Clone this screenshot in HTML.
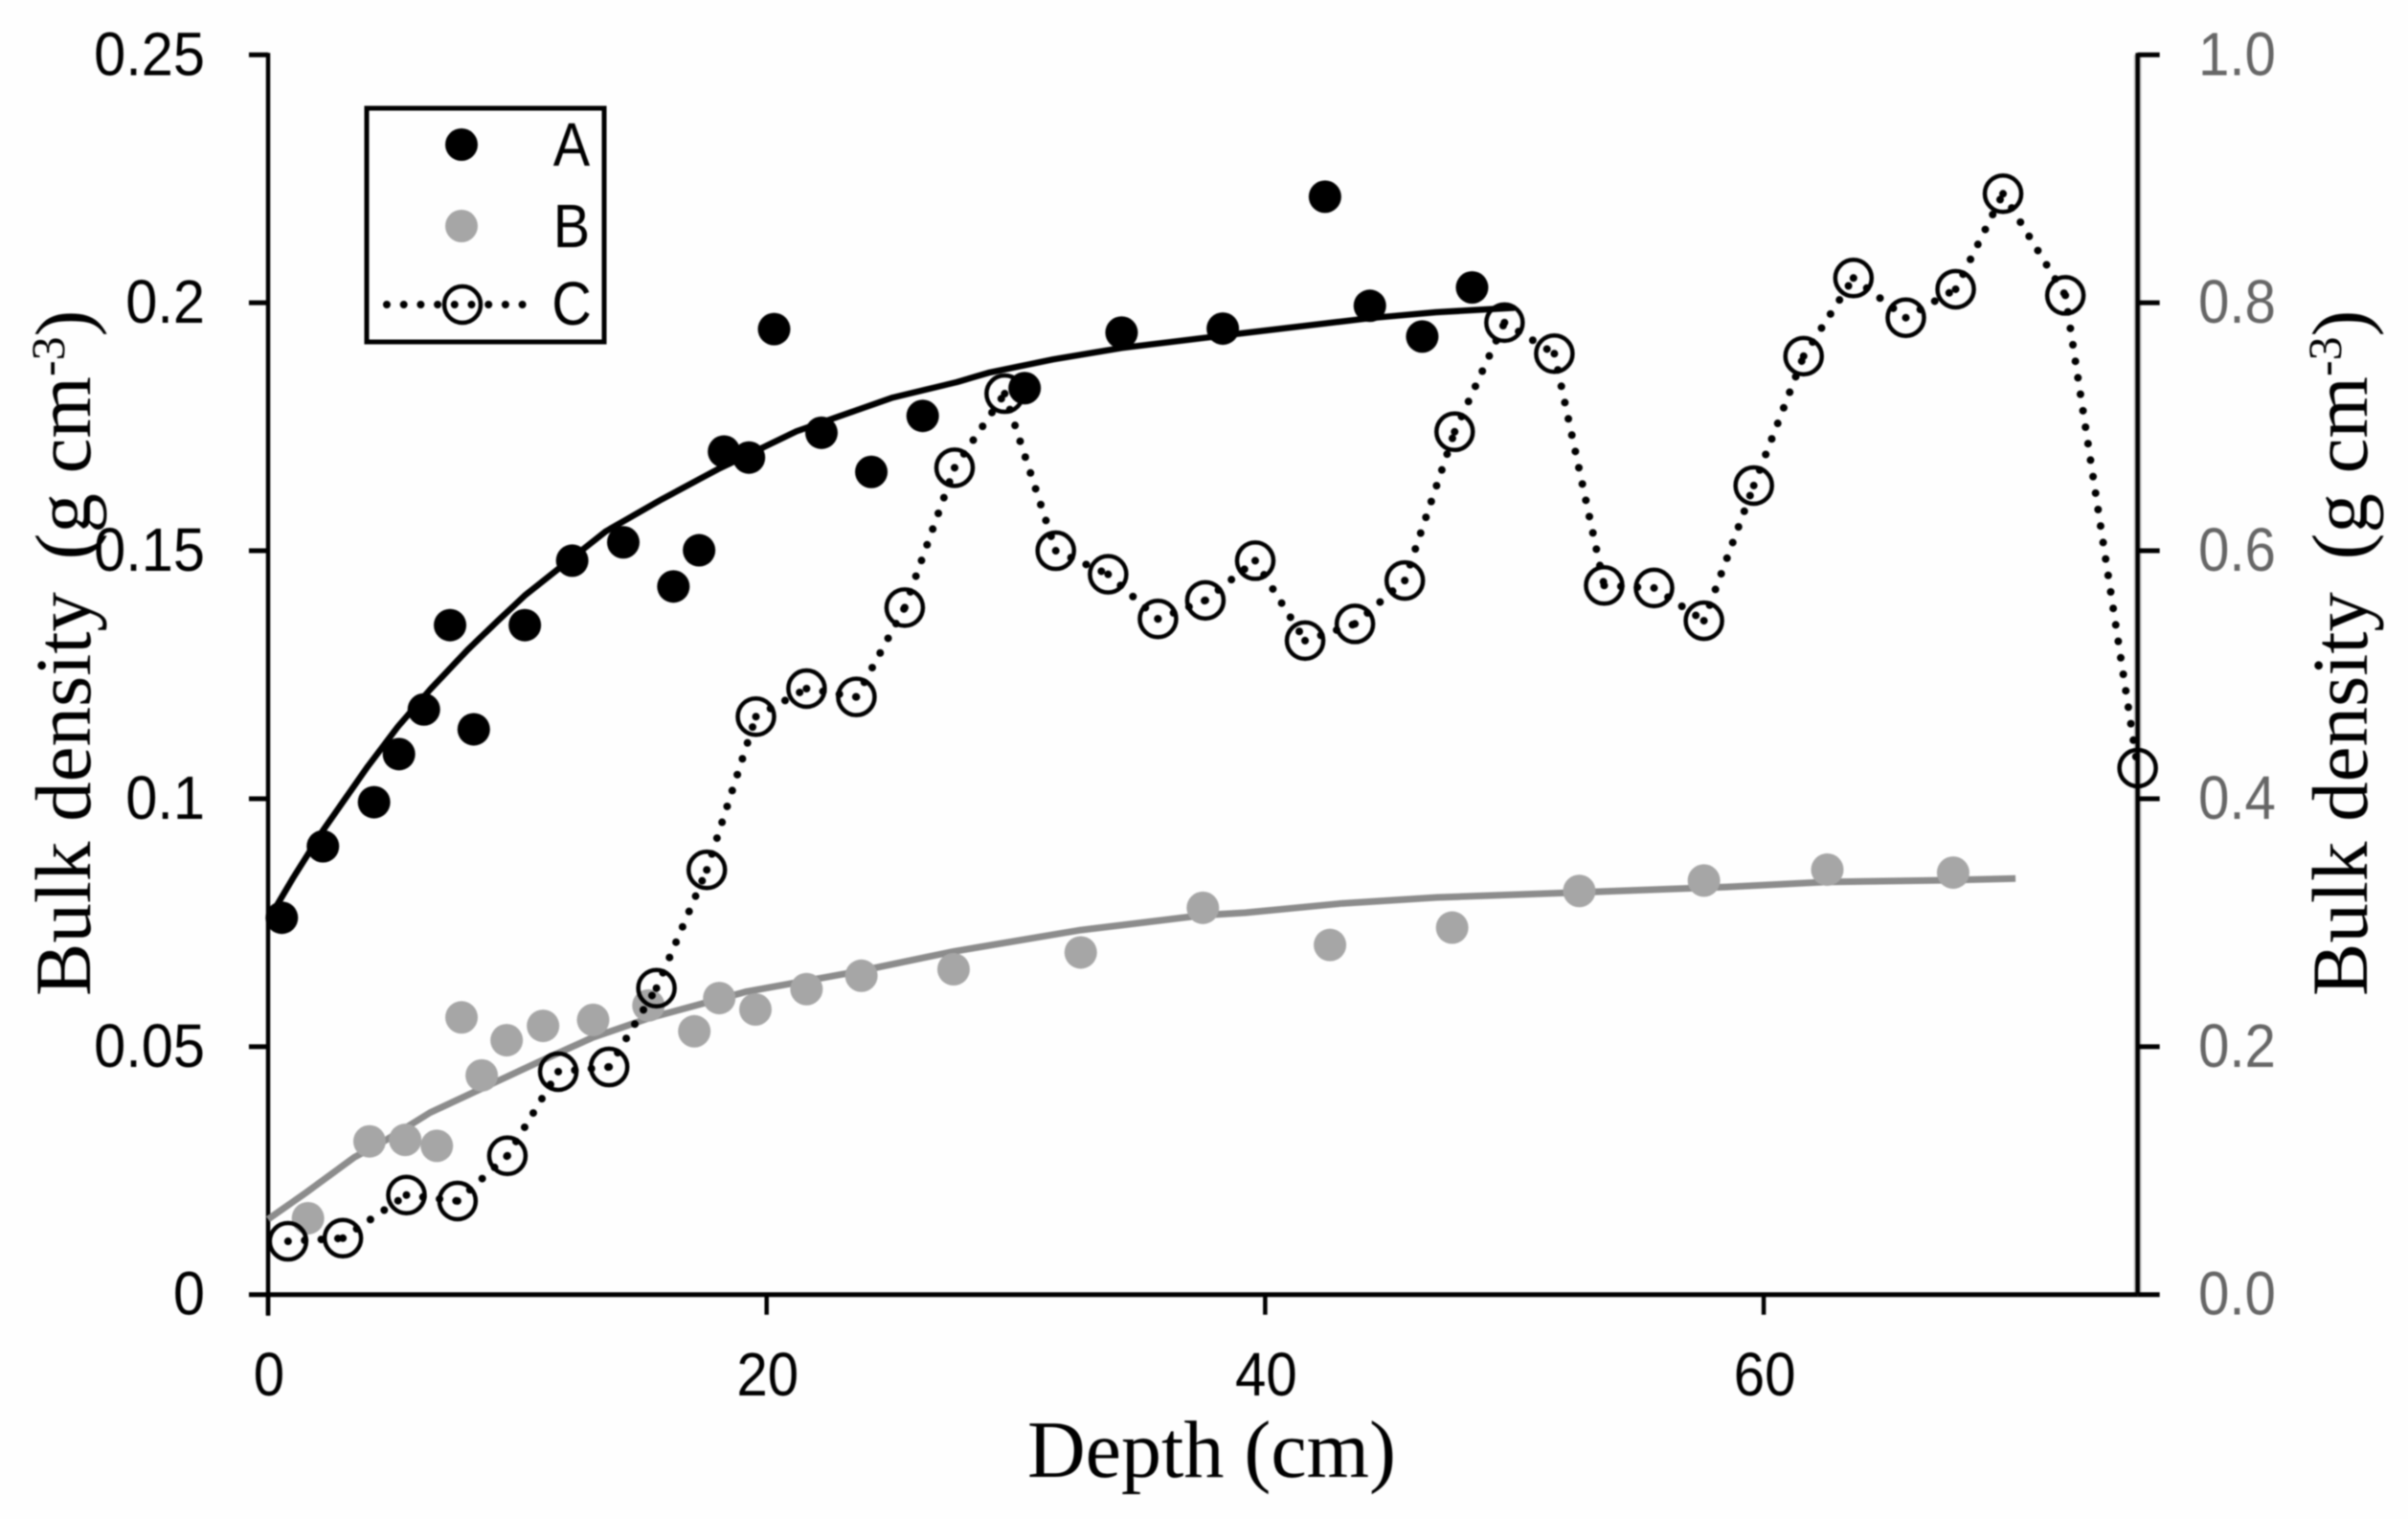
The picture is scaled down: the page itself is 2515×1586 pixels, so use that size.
<!DOCTYPE html>
<html lang="en">
<head>
<meta charset="utf-8">
<title>Bulk density vs depth</title>
<style>
html,body{margin:0;padding:0;background:#fefefe;}
body{width:2515px;height:1586px;overflow:hidden;}
svg{display:block;filter:blur(0.7px);}
.tick-left,.tick-bottom,.legend-label{font-family:"Liberation Sans",sans-serif;font-size:64px;fill:#000;}
.tick-right{font-family:"Liberation Sans",sans-serif;font-size:64px;fill:#666;}
.axis-title{font-family:"Liberation Serif",serif;font-size:83px;fill:#000;}
</style>
</head>
<body>
<svg id="chart" xmlns="http://www.w3.org/2000/svg" width="2515" height="1586" viewBox="0 0 2515 1586">
  <rect x="0" y="0" width="2515" height="1586" fill="#fefefe"/>
  <g id="axes"></g>
  <g id="marks"></g>
  <text class="axis-title" style="font-size:85px" x="1073" y="1542" textLength="385" lengthAdjust="spacingAndGlyphs">Depth (cm)</text>
  <text class="axis-title" transform="translate(94,1040) rotate(-90)">Bulk density <tspan dx="13">(g </tspan>cm<tspan dy="-27" font-size="50">-3</tspan><tspan dy="27">)</tspan></text>
  <text class="axis-title" transform="translate(2472,1040) rotate(-90)">Bulk density <tspan dx="13">(g </tspan>cm<tspan dy="-27" font-size="50">-3</tspan><tspan dy="27">)</tspan></text>
  <g>
    <rect x="383" y="113" width="248" height="244" fill="none" stroke="#000" stroke-width="5"/>
    <circle cx="482" cy="151" r="17" fill="#000"/>
    <circle cx="482" cy="236" r="17" fill="#a6a6a6"/>
    <line x1="404" y1="318" x2="548" y2="318" stroke="#000" stroke-width="8" stroke-linecap="round" stroke-dasharray="0 17.7"/>
    <circle cx="483" cy="318" r="19" fill="none" stroke="#000" stroke-width="4.5"/>
    <text class="legend-label" text-anchor="middle" transform="translate(597,173) scale(0.9,1)">A</text>
    <text class="legend-label" text-anchor="middle" transform="translate(597,258) scale(0.9,1)">B</text>
    <text class="legend-label" text-anchor="middle" transform="translate(597,339) scale(0.9,1)">C</text>
  </g>
</svg>
<script>
// Tick labels
const xTicks = [0, 20, 40, 60];
const leftTicks = [0, 0.05, 0.1, 0.15, 0.2, 0.25];
const leftTickLabels = ["0", "0.05", "0.1", "0.15", "0.2", "0.25"];
const rightTicks = [0, 0.2, 0.4, 0.6, 0.8, 1.0];
const rightTickLabels = ["0.0", "0.2", "0.4", "0.6", "0.8", "1.0"];

// Series A (left axis)
const depthA = [0.55, 2.2, 4.25, 5.25, 6.25, 7.3, 8.25, 10.3, 12.2, 14.25, 16.26, 17.29, 18.29, 19.29, 20.3, 22.2, 24.2, 26.26, 30.35, 34.24, 38.3, 42.4, 44.2, 46.3, 48.3];
const valuesA = [0.076, 0.0904, 0.0993, 0.109, 0.118, 0.135, 0.114, 0.135, 0.148, 0.1517, 0.1428, 0.1501, 0.170, 0.1688, 0.1947, 0.1738, 0.1659, 0.1772, 0.1828, 0.194, 0.1948, 0.2214, 0.1994, 0.1932, 0.2031];
// Trend line through A
const trendDepthA = [0, 1, 2.2, 4, 5.2, 6.5, 8, 9.2, 10.3, 13.54, 15.8, 18.03, 21.2, 25.06, 27.63, 28.9, 31.5, 34.24, 38.3, 44.2, 46.85, 50];
const trendValuesA = [0.0755, 0.084, 0.0936, 0.1065, 0.1145, 0.122, 0.130, 0.1358, 0.141, 0.1539, 0.1604, 0.1664, 0.1741, 0.1809, 0.1840, 0.1859, 0.1886, 0.1909, 0.1934, 0.1969, 0.1981, 0.199];

// Series B (left axis)
const depthB = [1.6, 4.07, 5.5, 6.77, 7.76, 8.57, 9.57, 11.03, 13.04, 15.26, 17.1, 18.1, 19.55, 21.6, 23.8, 27.5, 32.6, 37.5, 42.6, 47.5, 52.6, 57.6, 62.55, 67.6];
const valuesB = [0.0154, 0.0309, 0.0312, 0.03, 0.0559, 0.0442, 0.0513, 0.0542, 0.0554, 0.0583, 0.0531, 0.0598, 0.0575, 0.0616, 0.0643, 0.0656, 0.069, 0.078, 0.0705, 0.074, 0.0814, 0.0835, 0.0857, 0.0851];
// Trend line through B
const trendDepthB = [0, 1.5, 3.46, 4.74, 6.5, 8.55, 10.8, 13, 15.25, 19.2, 23.7, 27.5, 32.6, 37.5, 39.2, 43.1, 46.9, 52.6, 58.5, 62.5, 67.6, 70.1];
const trendValuesB = [0.0152, 0.0205, 0.0277, 0.0312, 0.0367, 0.0415, 0.0468, 0.0518, 0.0557, 0.0611, 0.0652, 0.0692, 0.0735, 0.0765, 0.077, 0.0789, 0.0801, 0.0811, 0.0822, 0.0832, 0.0836, 0.0839];

// Series C (right axis)
const depthC = [0.8, 3.0, 5.55, 7.6, 9.6, 11.64, 13.68, 15.58, 17.6, 19.57, 21.6, 23.6, 25.54, 27.54, 29.55, 31.6, 33.7, 35.7, 37.6, 39.6, 41.6, 43.6, 45.6, 47.6, 49.6, 51.6, 53.6, 55.6, 57.6, 59.6, 61.6, 63.6, 65.7, 67.7, 69.6, 72.1, 75];
const valuesC = [0.043, 0.0455, 0.0803, 0.0755, 0.112, 0.1798, 0.1836, 0.2472, 0.3426, 0.4662, 0.4888, 0.4821, 0.5542, 0.667, 0.7267, 0.6, 0.581, 0.545, 0.56, 0.592, 0.5275, 0.541, 0.576, 0.696, 0.784, 0.759, 0.572, 0.57, 0.5436, 0.6526, 0.757, 0.82, 0.788, 0.811, 0.888, 0.806, 0.4247];

// Axis functions
function xScale(depth) { return 280 + depth * 26.035; }
function yLeft(v) { return 1351.7 - v / 0.25 * 1294.4; }
function yRight(v) { return 1351.7 - v * 1294.4; }

const NS = "http://www.w3.org/2000/svg";
const axesGroup = document.getElementById("axes");
const marksGroup = document.getElementById("marks");

function drawLine(parent, x1, y1, x2, y2, stroke, width) {
  const el = document.createElementNS(NS, "line");
  el.setAttribute("x1", x1);
  el.setAttribute("y1", y1);
  el.setAttribute("x2", x2);
  el.setAttribute("y2", y2);
  el.setAttribute("stroke", stroke);
  el.setAttribute("stroke-width", width);
  parent.appendChild(el);
  return el;
}
function drawLabel(parent, cls, x, y, sx, anchor, str) {
  const el = document.createElementNS(NS, "text");
  el.setAttribute("class", cls);
  el.setAttribute("text-anchor", anchor);
  el.setAttribute("transform", "translate(" + x + "," + y + ") scale(" + sx + ",1)");
  el.textContent = str;
  parent.appendChild(el);
  return el;
}
function pathFrom(xs, ys, xf, yf) {
  return xs.map(function (d, i) { return (i ? "L" : "M") + xf(d).toFixed(1) + " " + yf(ys[i]).toFixed(1); }).join(" ");
}

// Axis lines
let axisEl;
axisEl = drawLine(axesGroup, xScale(75), yRight(1), xScale(75), yRight(0), "#c4c4c4", 8);


axisEl = drawLine(axesGroup, xScale(0), yLeft(0.25) - 2, xScale(0), yLeft(0) + 22, "#000", 4.5);


axisEl = drawLine(axesGroup, xScale(75), yRight(1) - 2, xScale(75), yRight(0), "#000", 4.5);


axisEl = drawLine(axesGroup, xScale(0), yLeft(0), xScale(75), yLeft(0), "#000", 5);



// Left ticks + labels
leftTicks.forEach(function (v, i) {
  const t = drawLine(axesGroup, xScale(0) - 20, yLeft(v), xScale(0), yLeft(v), "#000", 5);
  
  
  const l = drawLabel(axesGroup, "tick-left", 214, yLeft(v) + 21, 0.93, "end", leftTickLabels[i]);
  
  
});
// Right ticks + labels
rightTicks.forEach(function (v, i) {
  const t = drawLine(axesGroup, xScale(75), yRight(v), xScale(75) + 23, yRight(v), "#000", 5);
  
  
  const l = drawLabel(axesGroup, "tick-right", 2296, yRight(v) + 21, 0.91, "start", rightTickLabels[i]);
  
  
});
// X ticks + labels
xTicks.forEach(function (v) {
  const t = drawLine(axesGroup, xScale(v), yLeft(0), xScale(v), yLeft(0) + 21, "#000", 4.5);
  
  
  const l = drawLabel(axesGroup, "tick-bottom", xScale(v) + 1, 1457, 0.91, "middle", String(v));
  
  
});

// Trend B (under its markers)
const trendB = document.createElementNS(NS, "path");
trendB.setAttribute("d", pathFrom(trendDepthB, trendValuesB, xScale, yLeft));
trendB.setAttribute("fill", "none");
trendB.setAttribute("stroke", "#8c8c8c");
trendB.setAttribute("stroke-width", 7);
trendB.setAttribute("stroke-linejoin", "round");


marksGroup.appendChild(trendB);
// Series B points
depthB.forEach(function (d, i) {
  const c = document.createElementNS(NS, "circle");
  c.setAttribute("cx", xScale(d));
  c.setAttribute("cy", yLeft(valuesB[i]));
  c.setAttribute("r", 17);
  c.setAttribute("fill", "#a6a6a6");
  
  
  marksGroup.appendChild(c);
});

// Series C dotted segments + rings
depthC.forEach(function (d, i) {
  if (i === 0) return;
  const seg = drawLine(marksGroup, xScale(depthC[i - 1]), yRight(valuesC[i - 1]), xScale(d), yRight(valuesC[i]), "#000", 8);
  seg.setAttribute("stroke-linecap", "round");
  seg.setAttribute("stroke-dasharray", "0 17.4");
  
  
});
depthC.forEach(function (d, i) {
  const c = document.createElementNS(NS, "circle");
  c.setAttribute("cx", xScale(d));
  c.setAttribute("cy", yRight(valuesC[i]));
  c.setAttribute("r", 19);
  c.setAttribute("fill", "none");
  c.setAttribute("stroke", "#000");
  c.setAttribute("stroke-width", 4.5);
  
  
  marksGroup.appendChild(c);
});

// Trend A
const trendA = document.createElementNS(NS, "path");
trendA.setAttribute("d", pathFrom(trendDepthA, trendValuesA, xScale, yLeft));
trendA.setAttribute("fill", "none");
trendA.setAttribute("stroke", "#000");
trendA.setAttribute("stroke-width", 6.5);
trendA.setAttribute("stroke-linejoin", "round");


marksGroup.appendChild(trendA);
// Series A points
depthA.forEach(function (d, i) {
  const c = document.createElementNS(NS, "circle");
  c.setAttribute("cx", xScale(d));
  c.setAttribute("cy", yLeft(valuesA[i]));
  c.setAttribute("r", 17);
  c.setAttribute("fill", "#000");
  
  
  marksGroup.appendChild(c);
});
</script>
</body>
</html>
